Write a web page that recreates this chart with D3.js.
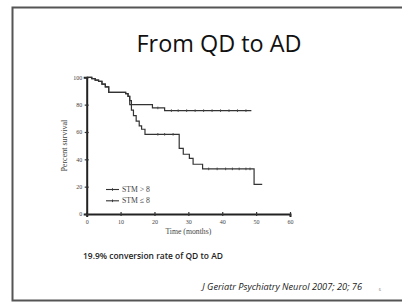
<!DOCTYPE html>
<html><head><meta charset="utf-8">
<script src="https://cdn.jsdelivr.net/npm/d3@7"></script>
<style>html,body{margin:0;padding:0;background:#fff;}svg{display:block;}</style>
</head><body>
<script>
// Data
const title = "From QD to AD";
const xTicks = [0, 10, 20, 30, 40, 50, 60];
const yTicks = [0, 20, 40, 60, 80, 100];
const seriesNames = ["STM > 8", "STM \u2264 8"];
// step points: [time (months), percent survival]
const stepsHigh = [[0,100],[1.5,99],[2.5,98],[3.5,97],[4.5,95],[5.5,93],[6.5,89],[11.5,88],[12.2,86],[12.7,83],[13.2,80],[19.4,77.6],[23,75.6],[48.6,75.6]];
const stepsLow  = [[0,100],[1.5,99],[2.5,98],[3.5,97],[4.5,95],[5.5,93],[6.5,89],[11.5,88],[12.2,86],[12.7,80],[13.2,76],[13.8,72],[14.6,68],[15.5,64.5],[16.2,62],[17.2,58.3],[27.3,48],[28.5,43.7],[30.3,40.7],[31.4,36.4],[34.2,33],[49.4,21.7],[51.8,21.7]];
const censorHigh = [21, 25, 27, 29.5, 32, 34.5, 37, 39.5, 42, 44.5, 47];
const censorLow = [21, 23, 25.5, 36, 38.5, 41, 43, 45, 47, 48.2];
const note = "19.9% conversion rate of QD to AD";
const citation = "J Geriatr Psychiatry Neurol 2007; 20; 76";
const pageNo = "6";

const W = 402, H = 304;
const svg = d3.select("body").append("svg").attr("width", W).attr("height", H);

function fit(sel, width){
  const fs = +sel.attr("font-size");
  const w = sel.node().getComputedTextLength();
  if (w > 0) sel.attr("font-size", fs * width / w);
  return sel;
}

// slide frame
svg.append("path").attr("d", `M${W},7.5H12.5V300.5H${W}`).attr("fill","none").attr("stroke","#555").attr("stroke-width",2);

const sans = "'Open Sans', Lato, sans-serif";
fit(svg.append("text").attr("x", 219).attr("y", 52).attr("text-anchor","middle")
  .attr("font-family", sans).attr("font-size", 20).attr("fill","#111").text(title), 165);

const x = d3.scaleLinear().domain([0,60]).range([86.7, 290]);
const y = d3.scaleLinear().domain([0,100]).range([214, 77.3]);

const serif = "'Liberation Serif', 'DejaVu Serif', serif";
const g = svg.append("g");

// axes
const xAxis = d3.axisBottom(x).tickValues(xTicks).tickSize(3).tickPadding(2.5);
const yAxis = d3.axisLeft(y).tickValues(yTicks).tickSize(3).tickPadding(1.5);
const gx = g.append("g").attr("transform", `translate(0,${y(0)})`).call(xAxis);
const gy = g.append("g").attr("transform", `translate(${x(0)},0)`).call(yAxis);
[gx, gy].forEach(a => {
  a.select(".domain").attr("stroke","#222").attr("stroke-width",2);
  a.selectAll(".tick line").attr("stroke","#333").attr("stroke-width",1.2);
  a.selectAll(".tick text").attr("font-family", serif).attr("font-size", 6).attr("fill","#444");
});
gx.selectAll(".tick line").attr("y1",-2).attr("y2",2);
gy.selectAll(".tick line").attr("x1",2).attr("x2",-2);

fit(g.append("text").attr("x", x(30)).attr("y", 234).attr("text-anchor","middle")
  .attr("font-family", serif).attr("font-size", 8).attr("fill","#444").text("Time (months)"), 46);
fit(g.append("text").attr("transform", `translate(67,${y(50)}) rotate(-90)`).attr("text-anchor","middle")
  .attr("font-family", serif).attr("font-size", 7.5).attr("fill","#444").text("Percent survival"), 52);

const line = d3.line().x(d => x(d[0])).y(d => y(d[1])).curve(d3.curveStepAfter);
function lastVal(steps, t){ let v = steps[0][1]; steps.forEach(s => { if (s[0] <= t) v = s[1]; }); return v; }

[[stepsHigh, censorHigh], [stepsLow, censorLow]].forEach(([steps, cens]) => {
  g.append("path").datum(steps).attr("d", line).attr("fill","none").attr("stroke","#333").attr("stroke-width",1.2);
  g.selectAll(null).data(cens).enter().append("line")
    .attr("x1", d => x(d)).attr("x2", d => x(d))
    .attr("y1", d => y(lastVal(steps, d)) - 1.3).attr("y2", d => y(lastVal(steps, d)) + 1.3)
    .attr("stroke","#444").attr("stroke-width",0.9);
});

// legend
seriesNames.forEach((n, i) => {
  const ly = 189.5 + i * 11.3;
  g.append("line").attr("x1",106).attr("x2",119).attr("y1",ly).attr("y2",ly).attr("stroke","#333").attr("stroke-width",1.1);
  g.append("line").attr("x1",112.5).attr("x2",112.5).attr("y1",ly-1.3).attr("y2",ly+1.3).attr("stroke","#333").attr("stroke-width",0.9);
  fit(g.append("text").attr("x",122).attr("y",ly+2.5).attr("font-family", serif).attr("font-size",7.5).attr("fill","#444").text(n), 28);
});

fit(svg.append("text").attr("x", 83).attr("y", 259).attr("font-family", sans).attr("font-weight", 600)
  .attr("font-size", 7).attr("fill","#222").text(note), 140);
fit(svg.append("text").attr("x", 362).attr("y", 289.5).attr("text-anchor","end").attr("font-family", sans)
  .attr("font-style","italic").attr("font-size", 7).attr("fill","#222").text(citation), 160);
svg.append("text").attr("x", 380).attr("y", 291).attr("text-anchor","middle").attr("font-family", sans)
  .attr("font-size", 4).attr("fill","#777").text(pageNo);
</script>
</body></html>
